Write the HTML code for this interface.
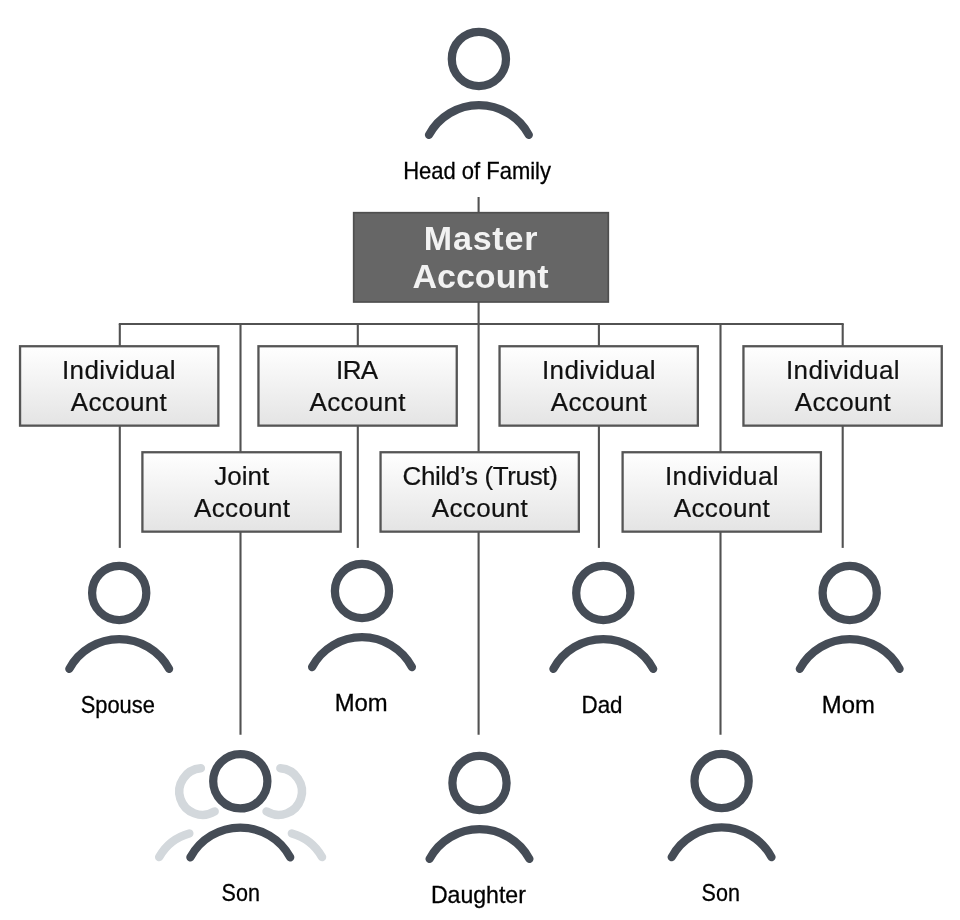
<!DOCTYPE html>
<html>
<head>
<meta charset="utf-8">
<title>Family Account Structure</title>
<style>
html,body{margin:0;padding:0;background:#fff;}
body{width:960px;height:920px;overflow:hidden;position:relative;}
svg{display:block;position:absolute;left:0;top:0;will-change:transform;}
text{font-family:"Liberation Sans",sans-serif;}
.lbl{font-size:24px;fill:#000;text-anchor:middle;stroke:#000;stroke-width:0.3px;}
.bx{font-size:26px;fill:#111;text-anchor:middle;stroke:#111;stroke-width:0.2px;}
.ms{font-size:34px;font-weight:bold;fill:#f2f2f2;text-anchor:middle;}
.ind{letter-spacing:0.42px;}
.acc{letter-spacing:0.33px;}
</style>
</head>
<body>
<svg width="960" height="920" viewBox="0 0 960 920">
<defs>
<linearGradient id="g" x1="0" y1="0" x2="0" y2="1">
<stop offset="0" stop-color="#ffffff"/>
<stop offset="1" stop-color="#e4e4e4"/>
</linearGradient>
<g id="p" fill="none" stroke-width="8.25" stroke-linecap="round">
<circle cx="0" cy="0" r="27.1"/>
<path d="M-49.9 76A56.7 56.7 0 0 1 49.9 76"/>
</g>
<g id="s" fill="none" stroke-width="8.5" stroke-linecap="round">
<path d="M-39.46 -12.99A23.3 23.3 0 1 0 -25.65 30.16"/>
<path d="M-81.1 75.7A49.7 49.7 0 0 1 -51 52.2"/>
</g>
</defs>

<!-- connector lines -->
<g stroke="#525252" stroke-width="2.1" fill="none">
<path d="M478.6 197V212"/>
<path d="M478.6 302V734.8"/>
<path d="M118.8 324H843.7"/>
<path d="M119.8 324V547.9"/>
<path d="M240.5 324V734.8"/>
<path d="M357.8 324V547.9"/>
<path d="M598.9 324V547.9"/>
<path d="M720.5 324V734.8"/>
<path d="M842.7 324V547.9"/>
</g>

<!-- master box -->
<rect x="353.7" y="212.7" width="254.6" height="89.3" fill="#666666" stroke="#4f4f4f" stroke-width="1.7"/>
<text class="ms" x="481" y="249.7" style="letter-spacing:0.8px">Master</text>
<text class="ms" x="480.5" y="288">Account</text>

<!-- account boxes -->
<g fill="url(#g)" stroke="#555555" stroke-width="2.3">
<rect x="20.05" y="346.25" width="198.3" height="79.4"/>
<rect x="258.45" y="346.25" width="198.3" height="79.4"/>
<rect x="499.55" y="346.25" width="198.3" height="79.4"/>
<rect x="743.45" y="346.25" width="198.3" height="79.4"/>
<rect x="142.4" y="452.25" width="198.3" height="79.4"/>
<rect x="380.55" y="452.25" width="198.3" height="79.4"/>
<rect x="622.6" y="452.25" width="198.3" height="79.4"/>
</g>

<text class="bx ind" x="119" y="379">Individual</text>
<text class="bx acc" x="119" y="411">Account</text>
<text class="bx" x="356.8" y="379" style="letter-spacing:-0.6px">IRA</text>
<text class="bx acc" x="357.7" y="411">Account</text>
<text class="bx ind" x="599" y="379">Individual</text>
<text class="bx acc" x="599" y="411">Account</text>
<text class="bx ind" x="843" y="379">Individual</text>
<text class="bx acc" x="843" y="411">Account</text>

<text class="bx" x="241.8" y="485">Joint</text>
<text class="bx acc" x="242.2" y="517">Account</text>
<text class="bx" x="480" y="485" style="letter-spacing:-0.36px">Child’s (Trust)</text>
<text class="bx acc" x="480" y="517">Account</text>
<text class="bx ind" x="722" y="485">Individual</text>
<text class="bx acc" x="722" y="517">Account</text>

<!-- person icons -->
<g stroke="#454c56">
<use href="#p" x="478.9" y="58.9"/>
<use href="#p" x="119.2" y="592.9"/>
<use href="#p" x="362" y="591"/>
<use href="#p" x="603.3" y="592.9"/>
<use href="#p" x="849.7" y="592.9"/>
<use href="#p" x="240.3" y="781.3"/>
<use href="#p" x="479.5" y="782.9"/>
<use href="#p" x="721.6" y="781.1"/>
</g>
<g stroke="#d3d8dc">
<use href="#s" x="240.3" y="781.3"/>
<use href="#s" transform="translate(240.9 781.3) scale(-1 1)"/>
</g>

<!-- labels -->
<text class="lbl" x="477.1" y="178.5" textLength="147.8" lengthAdjust="spacingAndGlyphs">Head of Family</text>
<text class="lbl" x="117.8" y="713.2" textLength="74" lengthAdjust="spacingAndGlyphs">Spouse</text>
<text class="lbl" x="361.2" y="710.9" textLength="53" lengthAdjust="spacingAndGlyphs">Mom</text>
<text class="lbl" x="602" y="713.2" textLength="41" lengthAdjust="spacingAndGlyphs">Dad</text>
<text class="lbl" x="848.3" y="713.2" textLength="53" lengthAdjust="spacingAndGlyphs">Mom</text>
<text class="lbl" x="240.7" y="901" textLength="38.3" lengthAdjust="spacingAndGlyphs">Son</text>
<text class="lbl" x="478.4" y="902.6" textLength="95" lengthAdjust="spacingAndGlyphs">Daughter</text>
<text class="lbl" x="720.7" y="901" textLength="38.3" lengthAdjust="spacingAndGlyphs">Son</text>
</svg>
</body>
</html>
